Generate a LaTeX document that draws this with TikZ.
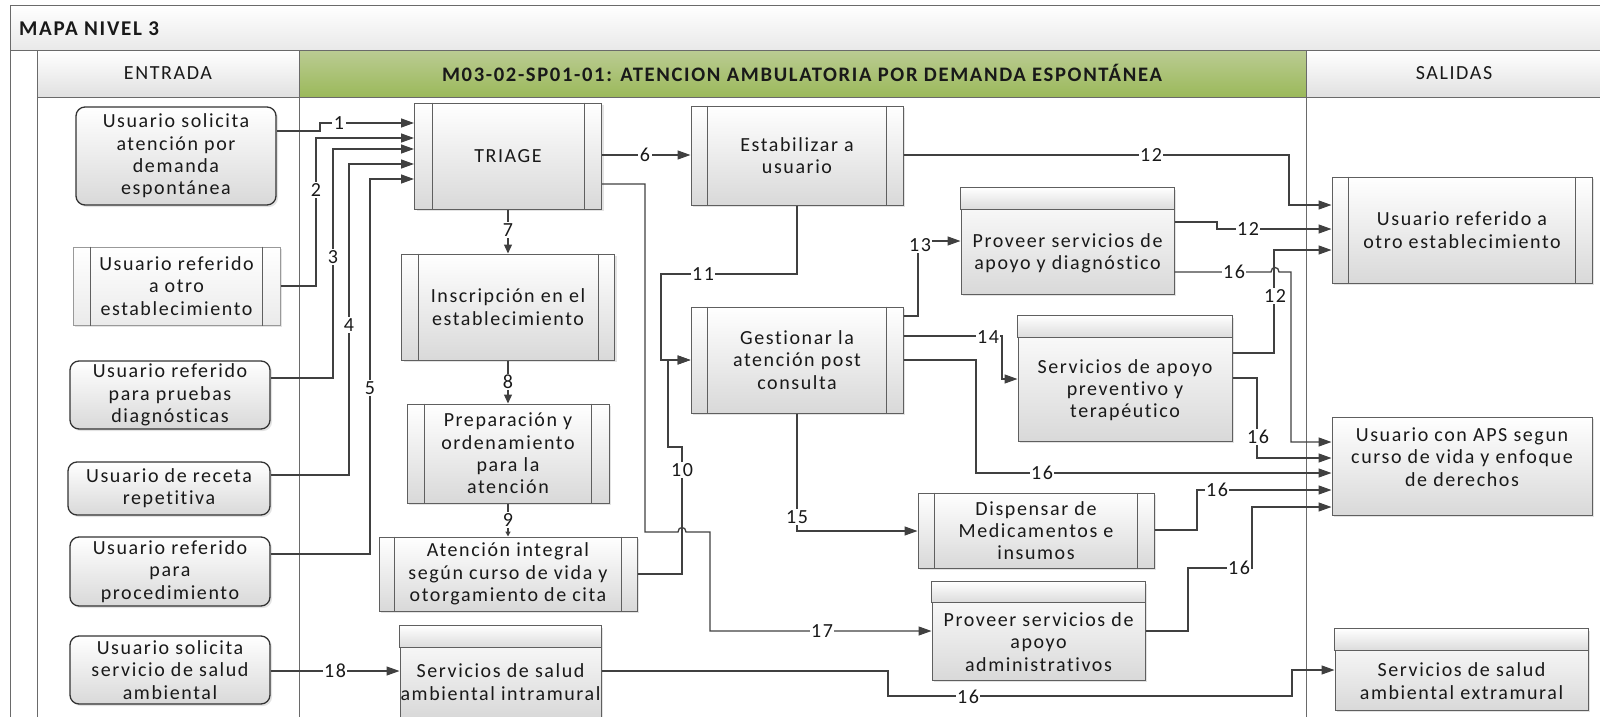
\documentclass[tikz,border=0pt]{standalone}
\usepackage{fontspec}
\setmainfont{Carlito}[LetterSpace=8, Ligatures=NoCommon]
\usetikzlibrary{arrows.meta,shadows}

\definecolor{edge}{HTML}{404040}
\definecolor{boxline}{HTML}{5F5F5F}
\definecolor{frameline}{HTML}{6A6A6A}
\definecolor{greenTop}{HTML}{BACB92}
\definecolor{greenBot}{HTML}{9BB95A}

\tikzset{
  txt/.style={font=\fontsize{20}{22.3}\selectfont, text=black!90, align=center, inner sep=0pt},
  boxbase/.style={txt, draw=boxline, line width=1pt, top color=white, bottom color=black!15,
    drop shadow={shadow xshift=2pt, shadow yshift=-2pt, opacity=0.22}},
  roundbox/.style={boxbase, rounded corners=9pt, draw=black!80, line width=1.3pt},
  procbox/.style={boxbase},
  lightproc/.style={boxbase, draw=black!40, bottom color=black!8},
  plainbox/.style={boxbase},
  bandbox/.style={boxbase},
  barline/.style={draw=boxline, line width=1pt},
  frame/.style={draw=frameline, line width=1pt},
  conn/.style={draw=edge, line width=1.3pt},
  arr/.style={conn, -{Triangle[length=13pt,width=9pt]}},
  smallarr/.style={conn, -{Triangle[length=9pt,width=8pt]}},
  tinyarr/.style={conn, -{Triangle[length=5pt,width=5pt]}},
  lbl/.style={txt, fill=white, inner sep=1.5pt},
}

% vertical bars of a subprocess box
\newcommand\procbars[2]{%
  \draw[barline] ([xshift=#2]#1.north west) -- ([xshift=#2]#1.south west);
  \draw[barline] ([xshift=-#2]#1.north east) -- ([xshift=-#2]#1.south east);}
% title band of a box
\newcommand\topband[2]{%
  \shade[top color=white, bottom color=black!14, draw=boxline, line width=1pt]
    (#1.north west) rectangle ([yshift=-#2]#1.north east);}

\begin{document}
\begin{tikzpicture}[x=1pt, y=-1pt]
\useasboundingbox (0,0) rectangle (1600,717);

% ---------- pool frame ----------
\shade[top color=white, bottom color=black!9] (10,6) rectangle (1600,51);
\shade[top color=white, bottom color=black!12] (37,51) rectangle (299,97);
\shade[top color=greenTop, bottom color=greenBot] (299,51) rectangle (1306,97);
\shade[top color=white, bottom color=black!12] (1306,51) rectangle (1600,97);
\draw[frame] (10,717) -- (10,6) -- (1600,6);
\draw[frame] (10,51) -- (1600,51);
\draw[frame] (37,97) -- (1600,97);
\draw[frame] (37,51) -- (37,717);
\draw[frame] (299,51) -- (299,717);
\draw[frame] (1306,51) -- (1306,717);

\node[txt, anchor=west, font=\fontsize{21}{23}\selectfont\bfseries] (title) at (19,29) {MAPA NIVEL 3};
\node[txt] (hin) at (168,73) {ENTRADA};
\node[txt, font=\fontsize{20.6}{22}\selectfont\bfseries] (hproc) at (802,73)
  {M03-02-SP01-01: ATENCION AMBULATORIA POR DEMANDA ESPONTÁNEA};
\node[txt] (hout) at (1454,73) {SALIDAS};

% ---------- inputs ----------
\node[roundbox, minimum width=200pt, minimum height=98pt] (e1) at (176,156)
  {Usuario solicita\\atención por\\demanda\\espontánea};
\node[lightproc, minimum width=207pt, minimum height=78pt] (e2) at (176.5,286)
  {Usuario referido\\a otro\\establecimiento};
\procbars{e2}{18pt}
\node[roundbox, minimum width=200pt, minimum height=68pt] (e3) at (170,395)
  {Usuario referido\\para pruebas\\diagnósticas};
\node[roundbox, minimum width=202pt, minimum height=53pt] (e4) at (169,488.5)
  {Usuario de receta\\repetitiva};
\node[roundbox, minimum width=200pt, minimum height=69pt] (e5) at (170,571.5)
  {Usuario referido\\para\\procedimiento};
\node[roundbox, minimum width=200pt, minimum height=68pt] (e6) at (170,670)
  {Usuario solicita\\servicio de salud\\ambiental};

% ---------- process ----------
\node[procbox, minimum width=187pt, minimum height=106pt] (triage) at (508,156) {TRIAGE};
\procbars{triage}{18pt}
\node[procbox, minimum width=213pt, minimum height=106pt] (insc) at (508,307)
  {Inscripción en el\\establecimiento};
\procbars{insc}{17pt}
\node[procbox, minimum width=202pt, minimum height=99pt] (prep) at (508,453.5)
  {Preparación y\\ordenamiento\\para la\\atención};
\procbars{prep}{18pt}
\node[procbox, minimum width=258pt, minimum height=74pt] (aten) at (508,574)
  {Atención integral\\según curso de vida y\\otorgamiento de cita};
\procbars{aten}{16pt}
\node[bandbox, minimum width=201pt, minimum height=91pt] (intra) at (500.5,671.5) {};
\topband{intra}{22pt}
\node[txt] (intra-t) at (500.5,682) {Servicios de salud\\ambiental intramural};

\node[procbox, minimum width=212pt, minimum height=99pt] (estab) at (797,155.5)
  {Estabilizar a\\usuario};
\procbars{estab}{17pt}
\node[procbox, minimum width=212pt, minimum height=106pt] (gest) at (797,360)
  {Gestionar la\\atención post\\consulta};
\procbars{gest}{17pt}

\node[bandbox, minimum width=213pt, minimum height=106pt] (pdiag) at (1067.5,241) {};
\topband{pdiag}{22pt}
\node[txt] (pdiag-t) at (1067.5,253) {Proveer servicios de\\apoyo y diagnóstico};

\node[bandbox, minimum width=214pt, minimum height=125pt] (prev) at (1125,378.5) {};
\topband{prev}{22pt}
\node[txt] (prev-t) at (1125,390) {Servicios de apoyo\\preventivo y\\terapéutico};

\node[procbox, minimum width=236pt, minimum height=75pt] (disp) at (1036,530.5)
  {Dispensar de\\Medicamentos e\\insumos};
\procbars{disp}{17pt}

\node[bandbox, minimum width=213pt, minimum height=98pt] (admin) at (1038.5,631) {};
\topband{admin}{21pt}
\node[txt] (admin-t) at (1038.5,642) {Proveer servicios de\\apoyo\\administrativos};

% ---------- outputs ----------
\node[procbox, minimum width=260pt, minimum height=106pt] (sref) at (1462,230)
  {Usuario referido a\\otro establecimiento};
\procbars{sref}{17pt}
\node[plainbox, minimum width=260pt, minimum height=98pt] (saps) at (1462,466) {};
\node[txt] (saps-t) at (1462,457) {Usuario con APS segun\\curso de vida y enfoque\\de derechos};
\node[bandbox, minimum width=253pt, minimum height=81pt] (sext) at (1461.5,669.5) {};
\topband{sext}{22pt}
\node[txt] (sext-t) at (1461.5,681) {Servicios de salud\\ambiental extramural};

% ---------- connectors ----------
\draw[arr] (e1.east |- 0,131) -| (320,123) -- (triage.west |- 0,123);
\draw[arr] (e2.east |- 0,286) -| (316,138) -- (triage.west |- 0,138);
\draw[arr] (e3.east |- 0,378) -| (333,149) -- (triage.west |- 0,149);
\draw[arr] (e4.east |- 0,475) -| (349,164) -- (triage.west |- 0,164);
\draw[arr] (e5.east |- 0,554) -| (370,179) -- (triage.west |- 0,179);
\draw[arr] (e6.east |- 0,671) -- (intra.west |- 0,671);

\draw[arr] (triage.east |- 0,155) -- (estab.west |- 0,155);
\draw[smallarr] (triage.south) -- (insc.north);
\draw[smallarr] (insc.south) -- (prep.north);
\draw[tinyarr] (prep.south) -- (aten.north);

\draw[arr] (aten.east |- 0,574) -| (682,447) -| (668,360) -- (gest.west |- 0,360);
\draw[arr] (estab.south) |- (661,274) |- (gest.west |- 0,360);

\draw[arr] (triage.east |- 0,184) -| (645,532) -- (678,532)
  .. controls (678,526) and (686,526) .. (686,532) -- (710,532) |- (admin.west |- 0,631);

\draw[arr] (estab.east |- 0,155) -| (1289,205) -- (sref.west |- 0,205);
\draw[arr] (pdiag.east |- 0,222) -| (1217,229) -- (sref.west |- 0,229);
\draw[arr] (prev.east |- 0,353) -| (1274,250) -- (sref.west |- 0,250);

\draw[arr] (gest.east |- 0,316) -| (918,241) -- (pdiag.west |- 0,241);
\draw[arr] (gest.east |- 0,336) -| (1002,379) -- (prev.west |- 0,379);
\draw[arr] (gest.south) |- (disp.west |- 0,531);

\draw[arr] (pdiag.east |- 0,272) -- (1271,272)
  .. controls (1271,266) and (1279,266) .. (1279,272) -- (1291,272) |- (saps.west |- 0,442);
\draw[arr] (prev.east |- 0,378) -| (1257,458) -- (saps.west |- 0,458);
\draw[arr] (gest.east |- 0,360) -| (976,473) -- (saps.west |- 0,473);
\draw[arr] (disp.east |- 0,530) -| (1197,490) -- (saps.west |- 0,490);
\draw[arr] (admin.east |- 0,631) -| (1188,568) -| (1252,507) -- (saps.west |- 0,507);
\draw[arr] (intra.east |- 0,671) -| (888,696) -| (1292,670) -- (sext.west |- 0,670);

% ---------- connector labels ----------
\node[lbl] (l1) at (339,123) {1};
\node[lbl] (l2) at (316,190) {2};
\node[lbl] (l3) at (333,257) {3};
\node[lbl] (l4) at (349,325) {4};
\node[lbl] (l5) at (370,388) {5};
\node[lbl] (l6) at (645,155) {6};
\node[lbl] (l7) at (508,230) {7};
\node[lbl] (l8) at (508,382) {8};
\node[lbl] (l9) at (508,520) {9};
\node[lbl] (l10) at (682,470) {10};
\node[lbl] (l11) at (703,274) {11};
\node[lbl] (l12a) at (1151,155) {12};
\node[lbl] (l12b) at (1248,229) {12};
\node[lbl] (l12c) at (1275,296) {12};
\node[lbl] (l13) at (920,245) {13};
\node[lbl] (l14) at (988,337) {14};
\node[lbl] (l15) at (797,517) {15};
\node[lbl] (l16a) at (1234,272) {16};
\node[lbl] (l16b) at (1258,437) {16};
\node[lbl] (l16c) at (1042,473) {16};
\node[lbl] (l16d) at (1217,490) {16};
\node[lbl] (l16e) at (1239,568) {16};
\node[lbl] (l16f) at (968,697) {16};
\node[lbl] (l17) at (822,631) {17};
\node[lbl] (l18) at (335,671) {18};
\end{tikzpicture}
\end{document}
